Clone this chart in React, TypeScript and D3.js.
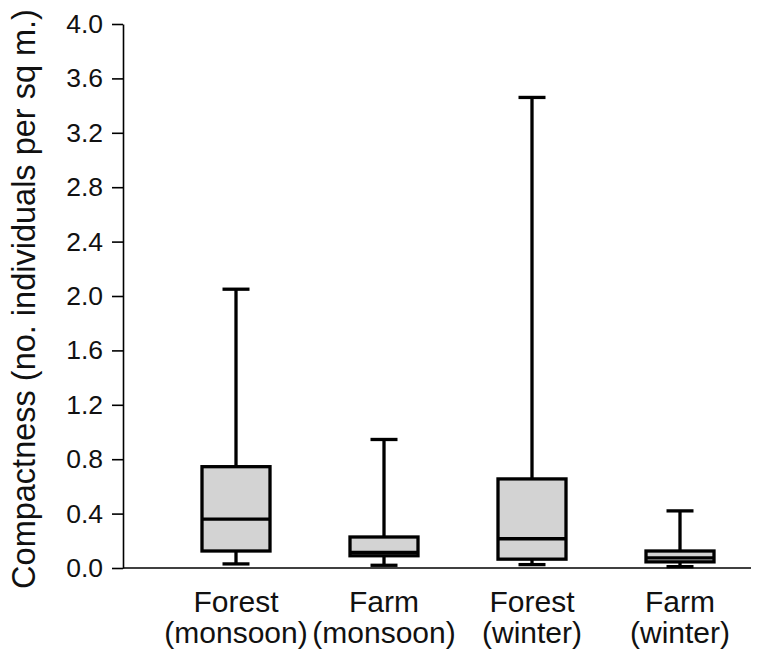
import * as d3 from 'd3';
import React, { useEffect, useRef } from 'react';

const categories = ['Forest\n(monsoon)', 'Farm\n(monsoon)', 'Forest\n(winter)', 'Farm\n(winter)'];
const whiskerLow = [0.03, 0.02, 0.025, 0.01];
const q1 = [0.125, 0.09, 0.065, 0.045];
const median = [0.36, 0.115, 0.215, 0.075];
const q3 = [0.745, 0.228, 0.655, 0.125];
const whiskerHigh = [2.05, 0.945, 3.46, 0.42];
const yTicks = [0, 0.4, 0.8, 1.2, 1.6, 2.0, 2.4, 2.8, 3.2, 3.6, 4.0];

const App = () => {
    const ref = useRef(null);

    useEffect(() => {
        const container = d3.select(ref.current);
        container.selectAll('*').remove();

        const W = 762, H = 654;
        const svg = container.append('svg')
            .attr('width', W)
            .attr('height', H)
            .style('display', 'block')
            .style('font-family', '"Liberation Sans", Arial, sans-serif');

        const left = 123, right = 751, top = 24, bottom = 568;

        const x = d3.scalePoint()
            .domain(categories)
            .range([162, 754])
            .padding(0.5);

        const y = d3.scaleLinear()
            .domain([0, 4])
            .range([bottom, top]);

        const rows = categories.map((c, i) => ({
            cat: c, lo: whiskerLow[i], q1: q1[i], med: median[i], q3: q3[i], hi: whiskerHigh[i]
        }));

        const boxW = 68, capW = 27, sw = 3.3;

        const g = svg.append('g');
        const groups = g.selectAll('g.box')
            .data(rows)
            .enter().append('g')
            .attr('transform', d => `translate(${x(d.cat)},0)`);

        // whiskers
        groups.append('line')
            .attr('x1', 0).attr('x2', 0)
            .attr('y1', d => y(d.hi)).attr('y2', d => y(d.q3))
            .attr('stroke', '#000').attr('stroke-width', sw);
        groups.append('line')
            .attr('x1', 0).attr('x2', 0)
            .attr('y1', d => y(d.q1)).attr('y2', d => y(d.lo))
            .attr('stroke', '#000').attr('stroke-width', sw);
        groups.append('line')
            .attr('x1', -capW / 2).attr('x2', capW / 2)
            .attr('y1', d => y(d.hi)).attr('y2', d => y(d.hi))
            .attr('stroke', '#000').attr('stroke-width', sw);
        groups.append('line')
            .attr('x1', -capW / 2).attr('x2', capW / 2)
            .attr('y1', d => y(d.lo)).attr('y2', d => y(d.lo))
            .attr('stroke', '#000').attr('stroke-width', sw);

        groups.append('rect')
            .attr('x', -boxW / 2)
            .attr('width', boxW)
            .attr('y', d => y(d.q3))
            .attr('height', d => y(d.q1) - y(d.q3))
            .attr('fill', '#d3d3d3')
            .attr('stroke', '#000')
            .attr('stroke-width', sw);

        groups.append('line')
            .attr('x1', -boxW / 2).attr('x2', boxW / 2)
            .attr('y1', d => y(d.med)).attr('y2', d => y(d.med))
            .attr('stroke', '#000').attr('stroke-width', sw);

        // y axis
        const yAxis = svg.append('g')
            .attr('transform', `translate(${left},0)`)
            .call(d3.axisLeft(y).tickValues(yTicks).tickFormat(d3.format('.1f')).tickSize(11).tickSizeOuter(0).tickPadding(9));
        yAxis.select('.domain').attr('stroke-width', 1.6);
        yAxis.selectAll('.tick line').attr('stroke-width', 1.6);
        yAxis.selectAll('.tick text')
            .attr('font-size', 26.5)
            .attr('font-family', '"Liberation Sans", Arial, sans-serif')
            .attr('fill', '#111');

        // x axis line
        svg.append('line')
            .attr('x1', left).attr('x2', right)
            .attr('y1', bottom).attr('y2', bottom)
            .attr('stroke', '#000').attr('stroke-width', 1.6);

        // x labels
        const xl = svg.append('g').selectAll('text')
            .data(categories)
            .enter().append('text')
            .attr('x', d => x(d))
            .attr('y', 612)
            .attr('text-anchor', 'middle')
            .attr('font-size', 30)
            .attr('fill', '#111');
        xl.each(function (d) {
            const t = d3.select(this);
            d.split('\n').forEach((line, i) => {
                t.append('tspan')
                    .attr('x', x(d))
                    .attr('dy', i === 0 ? 0 : 31)
                    .text(line);
            });
        });

        svg.append('text')
            .attr('transform', `translate(35,299) rotate(-90)`)
            .attr('text-anchor', 'middle')
            .attr('font-size', 32.5)
            .attr('fill', '#111')
            .text('Compactness (no. individuals per sq m.)');
    }, []);

    return <div ref={ref} style={{ position: 'absolute', left: 0, top: 0 }} />;
};

export default App;
